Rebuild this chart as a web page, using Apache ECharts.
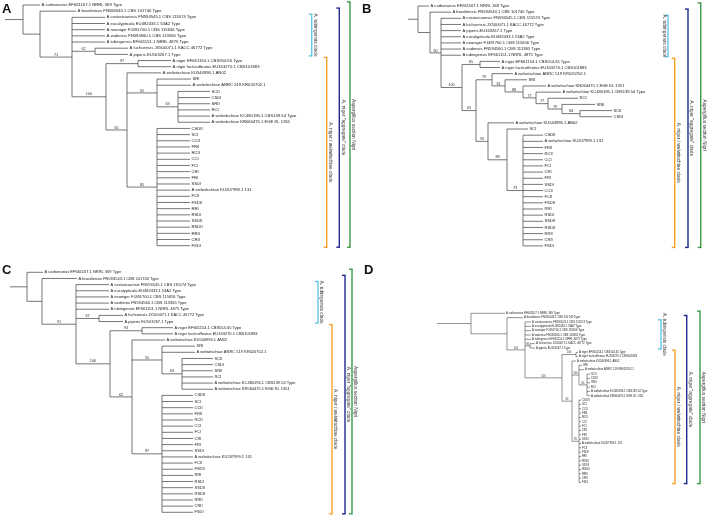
<!DOCTYPE html>
<html><head><meta charset="utf-8">
<script src="https://cdn.jsdelivr.net/npm/echarts@6/dist/echarts.min.js"></script>
<style>html,body{margin:0;padding:0;background:#fff}#c{width:708px;height:517px}</style>
</head><body><div id="c"></div>
<script>
// ---------------- DATA ----------------
const carb = "A carbonarius EF661167.1 NRRL 369 Type";
const bras = "A brasiliensis FN594543.1 CBS 101740 Type";
const cost = "A costaricaensis FN594545.1 CBS 115574 Type";
const euca = "A eucalypticola EU482433.1 53A2 Type";
const neon = "A neoniger FJ491700.1 CBS 115656 Type";
const vade = "A vadensis FN594560.1 CBS 113365 Type";
const tubi = "A tubingensis EF661151.1 NRRL 4875 Type";
const luch = "A luchuensis JX500071.1 KACC 46772 Type";
const pipe = "A piperis EU163267.1 Type";
const nigT = "A niger EF661154.1 CBS554.65 Type";
const nigL = "A niger lacticoffeatus EU163270.1 CBS101883";
const wAN02 = "A welwitschiae KU544996.1 AN02";
const wANRC = "A welwitschiae ANRC 519 KR020702.1";
const wCBS = "A welwitschiae KC480196.1 CBS139.54 Type";
const wEGE = "A welwitschiae KR064475.1 EGE KL 1351";
const w131 = "A welwitschiae KU207999.1 131";

const tubGroupACD = [cost, euca, neon, vade, tubi];
const tubGroupB = [cost, luch, pipe, euca, neon, vade, tubi];
const isolates63 = ["SCII", "CSDI", "SRII", "RCI", wCBS, wEGE];
const polyACD = ["CSDII","SCI","CCII","FRII","RCII","CCI","FCI","CRI","FRI","SSDI",w131,"FCII","FSDII","RRI","RSDI","SSDII","RSDII","RRII","CRII","FSDI"];
const polyB = ["CSDII",w131,"FRII","RCII","CCI","FCI","CRI","FRI","SSDI","CCII","FCII","FSDII","RRI","RSDI","SSDII","RSDII","RRII","CRII","FSDI"];

function tips(names, len) { return names.map(n => n + ":" + len).join(","); }

// trees (Newick, branch lengths, support values as node labels)
const newickA = `(${carb}:17,(${bras}:36,(${tips(tubGroupACD,33)},(${luch}:33,${pipe}:33)62:23,((${nigT}:33,${nigL}:33)97:32,(${wAN02}:34,(SRI:34,${wANRC}:34,(${tips(isolates63,32)})63:21)65:30,(${tips(polyACD,33)})85:30)65:21)100:34)71:32):17):18;`;
const newickB = `(${carb}:11,(${bras}:21,(${tips(tubGroupB,20)},((${nigT}:20,${nigL}:20)85:18,((${wANRC}:21,(SRI:22,(${wEGE}:23,(${wCBS}:25,(RCI:30,(SRII:33,(SCII:32,CSDI:32)84:18)79:14)77:12)77:13)88:18)61:13)79:16,(${wAN02}:26,(SCI:21,(${tips(polyB,20)})73:16)88:19)59:12)65:14)100:21)60:11):12):10;`;
const newickC = `(${carb}:16,(${bras}:35,(${tips(tubGroupACD,33)},(${luch}:24,${pipe}:24)67:23,((${nigT}:31,${nigL}:31)93:32,(${wAN02}:33,(SRI:33,${wANRC}:33,(${tips(isolates63,31)})63:20)55:30,(${tips(polyACD,31)})87:30)62:22)100:34)91:34):15):17;`;
const newickD = `(${carb}:34,(${bras}:16,(${tips(tubGroupACD,6)},(${luch}:5,${pipe}:5)98:5,((${nigT}:2,${nigL}:2)100:14,(${wAN02}:4,(SRI:3,${wANRC}:5,(${tips(isolates63,3)})84:8)100:7,(${tips(polyACD,2)})85:7)64:10)100:37)100:18):36):34;`;

const panelLetters = ["A", "B", "C", "D"];
const cladeLabels = ["A. tubingensis clade", "A. niger / welwitschiae clade", "A. niger \"aggregate\" clade", "Aspergillus section Nigri"];
const cladeFirstLeaf = [3, 10, 2, 1];
const cladeLastLeaf = [9, 40, 40, 40];

// ---------------- LAYOUT / STYLE ----------------
const FONT = "Liberation Sans, Arial, sans-serif";
const panelBoxes = [
  {left: 5, top: 5, width: 350, height: 240.7},
  {left: 408, top: 6, width: 300, height: 239.9},
  {left: 10, top: 272.3, width: 345, height: 240},
  {left: 437, top: 313.3, width: 270, height: 169.2}
];
const letterPos = [[2, 3], [362, 3], [2, 264], [364, 264]];
const bracketCols = [[306.7, 321.7, 334.3, 345], [260, 266.7, 280, 292.7], [308, 322, 335, 342], [224, 238, 249.7, 263]];
const bracketSide = [[1,1,1,1], [-1,1,1,1], [1,1,1,1], [1,1,1,1]];
const cladeColors = ["#62c6e6", "#f6a22a", "#1f2b8f", "#3a9a47"];
const leafFont = [4.2, 4.1, 4.0, 2.8];
const supFont = [3.8, 3.8, 3.8, 2.6];
const leafGap = [1.5, 1.5, 1.5, 1];
const treeLineW = [0.75, 0.75, 0.75, 0.6];

// ---------------- TREE UTILS ----------------
function parseNewick(str) {
  let i = 0;
  function node() {
    const n = {children: [], name: "", length: 0, support: ""};
    if (str[i] === "(") {
      i++;
      while (true) {
        n.children.push(node());
        if (str[i] === ",") { i++; continue; }
        if (str[i] === ")") { i++; break; }
        throw new Error("bad newick at " + i);
      }
      let lab = "";
      while (i < str.length && !":,);".includes(str[i])) lab += str[i++];
      n.support = lab.trim();
    } else {
      let nm = "";
      while (i < str.length && !":,);".includes(str[i])) nm += str[i++];
      n.name = nm.trim();
    }
    if (str[i] === ":") {
      i++;
      let num = "";
      while (i < str.length && !",);".includes(str[i])) num += str[i++];
      n.length = parseFloat(num);
    }
    return n;
  }
  return node();
}
function layoutTree(root) {
  const nodes = [];
  let leaf = 0;
  (function walk(n, px) {
    n.px = px; n.x = px + n.length;
    if (n.children.length) {
      n.children.forEach(c => walk(c, n.x));
      const f = n.children[0], l = n.children[n.children.length - 1];
      n.yMin = f.y; n.yMax = l.y; n.y = (f.y + l.y) / 2;
    } else {
      leaf++; n.y = leaf; n.yMin = n.yMax = leaf;
    }
    nodes.push(n);
  })(root, 0);
  return nodes;
}

const trees = [newickA, newickB, newickC, newickD].map(s => layoutTree(parseNewick(s)));

// ---------------- OPTION ----------------
const grids = [], xAxes = [], yAxes = [], series = [];
panelBoxes.forEach((b, p) => {
  grids.push({left: b.left, top: b.top, width: b.width, height: b.height, containLabel: false});
  xAxes.push({type: "value", gridIndex: p, min: 0, max: b.width, show: false});
  yAxes.push({type: "value", gridIndex: p, min: 1, max: 40, inverse: true, show: false});
  const nodes = trees[p];
  series.push({
    type: "custom", xAxisIndex: p, yAxisIndex: p, silent: true, animation: false, clip: false,
    data: nodes.map(n => [n.x, n.y, n.px, n.yMin, n.yMax]),
    encode: {x: [0, 2], y: [1, 3, 4]},
    renderItem: (params, api) => {
      const n = nodes[params.dataIndex];
      const a = api.coord([api.value(2), api.value(1)]);
      const c = api.coord([api.value(0), api.value(1)]);
      const st = {stroke: "#4a4a4a", lineWidth: treeLineW[p]};
      const ch = [{type: "line", shape: {x1: a[0], y1: a[1], x2: c[0], y2: c[1]}, style: st}];
      if (n.children.length) {
        const t = api.coord([api.value(0), api.value(3)]);
        const u = api.coord([api.value(0), api.value(4)]);
        ch.push({type: "line", shape: {x1: t[0], y1: t[1], x2: u[0], y2: u[1]}, style: st});
        if (n.support) {
          ch.push({type: "text", x: (a[0] + c[0]) / 2, y: c[1] - 0.4,
            style: {text: n.support, fontSize: supFont[p], fontFamily: FONT, fill: "#333", align: "center", verticalAlign: "bottom"}});
        }
      } else {
        ch.push({type: "text", x: c[0] + leafGap[p], y: c[1],
          style: {text: n.name, fontSize: leafFont[p], fontFamily: FONT, fill: "#222", align: "left", verticalAlign: "middle"}});
      }
      return {type: "group", children: ch};
    }
  });
  series.push({
    type: "custom", xAxisIndex: p, yAxisIndex: p, silent: true, animation: false, clip: false,
    data: cladeLabels.map((lab, k) => [bracketCols[p][k], cladeFirstLeaf[k] - 0.5, cladeLastLeaf[k] + 0.25]),
    encode: {x: 0, y: [1, 2]},
    renderItem: (params, api) => {
      const k = params.dataIndex;
      const t = api.coord([api.value(0), api.value(1)]);
      const u = api.coord([api.value(0), api.value(2)]);
      const st = {stroke: cladeColors[k], lineWidth: 1.4};
      const side = bracketSide[p][k];
      return {type: "group", children: [
        {type: "line", shape: {x1: t[0], y1: t[1], x2: u[0], y2: u[1]}, style: st},
        {type: "line", shape: {x1: t[0] - 3, y1: t[1], x2: t[0] + 0.7, y2: t[1]}, style: st},
        {type: "line", shape: {x1: u[0] - 3, y1: u[1], x2: u[0] + 0.7, y2: u[1]}, style: st},
        {type: "text", x: t[0] + side * 3.7, y: (t[1] + u[1]) / 2, rotation: -Math.PI / 2,
          style: {text: cladeLabels[k], fontSize: 4.8, fontFamily: FONT, fill: "#333", align: "center", verticalAlign: "middle"}}
      ]};
    }
  });
});

const chart = echarts.init(document.getElementById("c"), null, {renderer: "canvas"});
chart.setOption({
  animation: false,
  backgroundColor: "#fff",
  grid: grids, xAxis: xAxes, yAxis: yAxes, series: series,
  graphic: panelLetters.map((L, p) => ({type: "text", left: letterPos[p][0], top: letterPos[p][1],
    style: {text: L, fontSize: 13, fontWeight: "bold", fontFamily: FONT, fill: "#111"}}))
});
</script></body></html>
